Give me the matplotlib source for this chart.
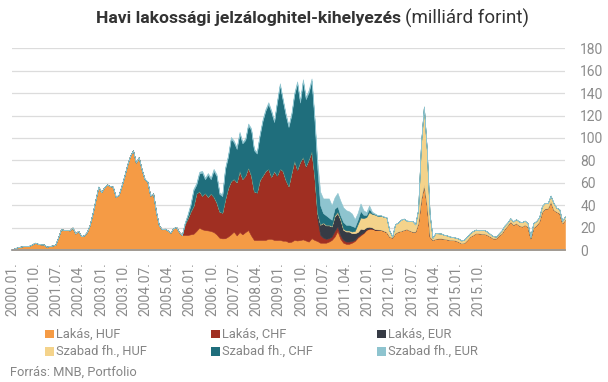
import matplotlib
matplotlib.use("Agg")
import matplotlib.pyplot as plt
from matplotlib.patches import Rectangle
import numpy as np

plt.rcParams['font.family'] = ['Roboto', 'DejaVu Sans']

# ---- data (monthly, 2000.01 - 2016.01), billion HUF ----
tick_labels = ["2000.01.", "2000.10.", "2001.07.", "2002.04.", "2003.01.", "2003.10.",
               "2004.07.", "2005.04.", "2006.01.", "2006.10.", "2007.07.", "2008.04.",
               "2009.01.", "2009.10.", "2010.07.", "2011.04.", "2012.01.", "2012.10.",
               "2013.07.", "2014.04.", "2015.01.", "2015.10."]

lakas_huf = [
    0.5, 1.5, 2.5, 3, 3.5, 3.5, 3.8, 5, 6.5, 5.5,
    5, 5, 3, 3.5, 4, 4.5, 11, 18.5, 18, 18,
    17.5, 20, 14.8, 17, 12.5, 13, 16, 22.5, 33, 45,
    56.5, 51.6, 56, 58.5, 57, 56.5, 47.5, 49, 57, 66,
    76, 84, 89, 78, 82.7, 72, 63.5, 61, 48.5, 50.5,
    34, 22, 18.5, 19, 17.5, 15.5, 19.5, 20.5, 16, 13.4,
    13.4, 13.4, 14, 14.5, 17, 20, 18.5, 17.8, 17.5, 17,
    16, 14, 11, 10.4, 10.5, 12, 14, 16.4, 13, 16,
    14, 16, 17.8, 13, 9, 8.9, 9, 9, 9, 10,
    10, 9, 8.9, 9, 8.3, 8.3, 7, 7.4, 9, 8.5,
    8.9, 9.5, 8.5, 7.5, 10.5, 9, 8, 6.5, 6.5, 6.5,
    7.5, 9, 12, 17, 10, 6.5, 5.5, 5.5, 6.5, 8,
    11, 13, 15, 17.8, 19, 19, 18, 18, 18, 17,
    16, 12, 11, 15, 16.4, 17, 18, 18.7, 17.5, 16.4,
    16.4, 24, 45, 58, 40, 12, 9, 10, 10.4, 10.4,
    10, 9.5, 9, 8.9, 8.5, 7.4, 6, 6.5, 9, 12,
    13.4, 15, 14.9, 14.5, 14.5, 13.5, 12, 10.4, 10.4, 13,
    15, 19, 22, 25.3, 22.5, 24, 22, 21, 22.5, 20.8,
    10.4, 20, 22, 25.3, 34.2, 37, 37.2, 43, 36, 34.2,
    33, 24, 27]

lakas_chf = [0] * 60 + [
    9.6, 14.6, 20, 24.5, 33, 32, 29.5, 32.8, 29.5, 33,
    31, 28, 23, 22.6, 34.5, 43, 47, 46.6, 47, 54,
    49, 50, 55.2, 53, 43, 42.1, 53, 57, 61, 62,
    55, 61, 57.1, 63, 61.7, 53.7, 49.5, 60.6, 70, 62.5,
    69.1, 72.5, 65.5, 72.5, 76.5, 55, 20, 7, 4.5, 3.5,
    3, 3, 5, 4, 3, 2.5, 2, 2, 1.5, 1,
    1, 1, 0.5, 0.5, 0.3, 0.2, 0.1, 0.1] + [0] * 65

lakas_eur = [0] * 60 + [
    0.2, 0.4, 0.5, 0.5, 0.6, 0.5, 0.5, 0.4, 0.5, 0.5,
    0.6, 0.5, 0.4, 0.4, 0.5, 0.5, 0.6, 0.5, 0.5, 0.6,
    0.5, 0.5, 0.6, 0.5, 0.4, 0.4, 0.5, 0.5, 0.6, 0.6,
    0.5, 0.5, 0.6, 0.7, 0.6, 0.6, 0.6, 0.7, 0.8, 0.8,
    0.9, 1.0, 1.0, 1.1, 1.2, 2, 5, 9, 13, 12,
    11.5, 9, 13, 12, 14, 9, 9, 9, 7, 6,
    4, 5, 3, 2, 1.5, 1, 0.5, 0.3, 0.2, 0.2,
    0.1] + [0] * 62

szabad_huf = [0] * 107 + [
    0.5, 0.5, 0.5, 0.5, 0.5, 1, 1, 1, 1, 1,
    1, 1.5, 2, 7, 10, 10, 9, 13, 12, 13,
    12, 12.5, 12.5, 13, 5.5, 1, 8, 8, 10, 10,
    7.5, 8.5, 9.5, 6.5, 12, 50, 70, 50, 20, 2,
    5, 4.5, 4.3, 3.5, 3.5, 3, 2.7, 2.5, 2.8, 2.5,
    2.8, 3, 3, 3.5, 3.2, 2.7, 3.3, 3.3, 2.8, 2.2,
    2, 1.5, 1.8, 2.5, 2.8, 2.5, 3, 3, 3.4, 3.5,
    3.8, 3.7, 3.2, 1.5, 4, 3.8, 3.7, 5, 5, 4.5,
    5.5, 6, 3.5, 3.5, 2, 3]

szabad_chf = [0] * 60 + [
    1, 2.7, 5.7, 13.7, 7.7, 15.7, 20.7, 12.1, 19.7, 12.7,
    23.2, 23.7, 15.7, 14.7, 26.7, 27.7, 37.7, 32.7, 29.7, 33.2,
    31.7, 31.7, 37.7, 40.7, 36.7, 34.7, 39.7, 48.7, 53.7, 57.7,
    57.7, 43.7, 64.7, 74.4, 62.7, 57.7, 52.7, 51.7, 58.7, 76.9,
    52.7, 67.4, 59.7, 59.7, 62.7, 50, 40, 17, 8.5, 8.5,
    6.5, 5.5, 6, 5, 3, 6, 5, 5, 5, 3.5,
    4, 6, 3, 2, 3, 1, 0.5, 0.3, 0.2, 0.1,
    0.1] + [0] * 62

szabad_eur = [0] * 60 + [
    0.3, 1.2, 1.4, 1.5, 1.5, 1.6, 1.5, 1.4, 1.5, 1.5,
    1.6, 1.5, 1.4, 1.4, 1.5, 1.5, 1.6, 1.5, 1.5, 1.6,
    1.5, 1.5, 1.6, 1.5, 1.4, 1.4, 1.5, 1.5, 1.6, 1.6,
    1.5, 1.5, 1.6, 1.7, 1.6, 1.6, 1.6, 1.7, 1.8, 1.8,
    1.9, 2.0, 2.0, 2.1, 2.2, 3.5, 6.5, 12, 13, 15,
    17, 13, 10, 12, 13, 13, 13, 12, 11, 7,
    6, 6.5, 4, 2.5, 3, 1, 0.5, 0.3, 0.2, 0.2,
    0.1] + [0] * 62

series_names = ["Lakás, HUF", "Lakás, CHF", "Lakás, EUR",
                "Szabad fh., HUF", "Szabad fh., CHF", "Szabad fh., EUR"]
series = [lakas_huf, lakas_chf, lakas_eur, szabad_huf, szabad_chf, szabad_eur]
colors = ["#F59B45", "#A02F22", "#363B45", "#F4D38B", "#1F6E7C", "#8EC4CF"]

n = len(lakas_huf)
x = np.arange(n)

W, H = 608, 382
fig = plt.figure(figsize=(W / 100, H / 100), dpi=100)
ax_left, ax_right, ax_bottom_px, ax_top_px = 12, 565, 250, 48.3
ax = fig.add_axes([ax_left / W, (H - ax_bottom_px) / H,
                   (ax_right - ax_left) / W, (ax_bottom_px - ax_top_px) / H])

base = np.zeros(n)
for vals, col in zip(series, colors):
    v = np.array(vals, dtype=float)
    ax.fill_between(x, base, base + v, facecolor=col, edgecolor=col,
                    linewidth=0.4, zorder=2)
    base = base + v

ax.set_xlim(0, n - 1)
ax.set_ylim(0, 180)
ax.set_yticks(np.arange(0, 181, 20))
ax.yaxis.tick_right()
ax.tick_params(axis='y', length=0, pad=11, labelsize=10, labelcolor='#8c8c8c')
ax.grid(axis='y', color='#dcdcdc', linewidth=0.9, zorder=0)
ax.set_axisbelow(True)

tick_pos = [i * 7.716 for i in range(len(tick_labels))]
ax.set_xticks(tick_pos)
ax.set_xticklabels(tick_labels, rotation=90)
ax.tick_params(axis='x', length=0, pad=9, labelsize=10, labelcolor='#8c8c8c')

for s in ['top', 'left', 'right']:
    ax.spines[s].set_visible(False)
ax.spines['bottom'].set_color('#9a9a9a')
ax.spines['bottom'].set_linewidth(1.3)
ax.spines['bottom'].set_zorder(5)

# title
t1 = fig.text(96 / W, 1 - 18 / H, "Havi lakossági jelzáloghitel-kihelyezés",
              fontsize=12.6, fontweight='bold', color='#333333', ha='left', va='center')
fig.canvas.draw()
bb = t1.get_window_extent()
fig.text(bb.x1 / W + 4 / W, 1 - 18 / H, "(milliárd forint)",
         fontsize=13.5, color='#333333', ha='left', va='center')

# legend (manual, 3 columns x 2 rows)
col_x = [45, 211, 377]
row_y = [334, 351.5]
order = [[0, 1, 2], [3, 4, 5]]
for r, row in enumerate(order):
    for c, idx in enumerate(row):
        sq = 8.5
        fig.add_artist(Rectangle((col_x[c] / W, (H - row_y[r] - sq / 2) / H),
                                 sq / W, sq / H, transform=fig.transFigure,
                                 facecolor=colors[idx], edgecolor='none'))
        fig.text((col_x[c] + 11) / W, 1 - row_y[r] / H, series_names[idx],
                 fontsize=9.3, color='#858585', ha='left', va='center')

fig.text(10 / W, 1 - 372 / H, "Forrás: MNB, Portfolio", fontsize=9.3,
         color='#858585', ha='left', va='center')

fig.savefig("out.png", dpi=100)
